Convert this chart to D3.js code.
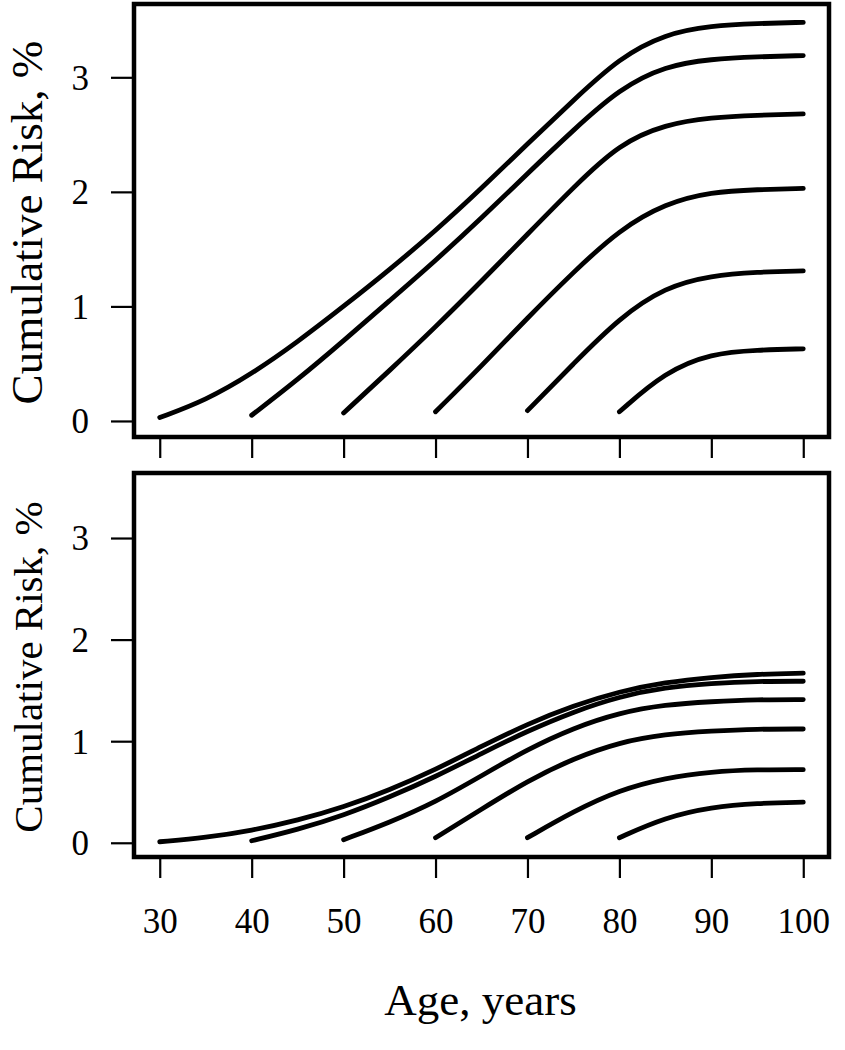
<!DOCTYPE html>
<html>
<head>
<meta charset="utf-8">
<script src="https://cdn.jsdelivr.net/npm/d3@7"></script>
<style>
  html, body { margin: 0; padding: 0; background: #fff; }
  svg { display: block; }
  text { font-family: "Liberation Serif", "Times New Roman", serif; fill: #000; }
</style>
</head>
<body>
<svg id="chart" width="845" height="1050"></svg>
<script>
// ---- Data ----
const ages = [30, 35, 40, 45, 50, 55, 60, 65, 70, 75, 80, 85, 90, 95, 100];
const startAges = [30, 40, 50, 60, 70, 80];
const xTicks = [30, 40, 50, 60, 70, 80, 90, 100];
const yTicks = [0, 1, 2, 3];
const yLabel = "Cumulative Risk, %";
const xLabel = "Age, years";

// Top panel: cumulative risk (%) by age, one series per start age
const top30 = [0.03, 0.18, 0.41, 0.69, 1.00, 1.32, 1.66, 2.03, 2.42, 2.80, 3.17, 3.38, 3.45, 3.47, 3.48];
const top40 = [0.05, 0.36, 0.70, 1.05, 1.40, 1.77, 2.16, 2.54, 2.90, 3.10, 3.16, 3.18, 3.19];
const top50 = [0.07, 0.44, 0.82, 1.22, 1.63, 2.04, 2.42, 2.59, 2.65, 2.67, 2.68];
const top60 = [0.08, 0.48, 0.90, 1.30, 1.67, 1.90, 2.00, 2.02, 2.03];
const top70 = [0.09, 0.50, 0.90, 1.17, 1.27, 1.30, 1.31];
const top80 = [0.08, 0.43, 0.59, 0.62, 0.63];

// Bottom panel
const bot30 = [0.01, 0.05, 0.12, 0.22, 0.35, 0.52, 0.72, 0.95, 1.17, 1.35, 1.49, 1.58, 1.63, 1.66, 1.67];
const bot40 = [0.02, 0.13, 0.27, 0.45, 0.65, 0.88, 1.10, 1.29, 1.44, 1.53, 1.57, 1.59, 1.59];
const bot50 = [0.03, 0.20, 0.40, 0.66, 0.92, 1.13, 1.28, 1.36, 1.39, 1.41, 1.41];
const bot60 = [0.05, 0.33, 0.61, 0.83, 0.99, 1.07, 1.10, 1.12, 1.12];
const bot70 = [0.05, 0.31, 0.52, 0.64, 0.70, 0.72, 0.72];
const bot80 = [0.05, 0.25, 0.35, 0.39, 0.40];

const topSeries = [top30, top40, top50, top60, top70, top80];
const botSeries = [bot30, bot40, bot50, bot60, bot70, bot80];

function toPoints(series, start) {
  const i0 = ages.indexOf(start);
  return series.map((v, i) => ({ age: ages[i0 + i], risk: v }));
}

// ---- Drawing ----
const svg = d3.select("#chart");
const xDomain = [27.2, 102.8];
const yDomain = [-0.14, 3.64];

const panels = [
  { series: botSeries, top: 473, bottom: 857, labels: true, ylabSize: 41 },
  { series: topSeries, top: 4, bottom: 437, labels: false, ylabSize: 45 }
];

const left = 134, right = 829;
const x = d3.scaleLinear().domain(xDomain).range([left, right]);

panels.forEach(p => {
  const y = d3.scaleLinear().domain(yDomain).range([p.bottom, p.top]);
  const g = svg.append("g");

  // curves
  const line = d3.line()
    .x(d => x(d.age))
    .y(d => y(d.risk))
    .curve(d3.curveBasis);

  g.selectAll("path.curve")
    .data(p.series.map((s, i) => toPoints(s, startAges[i])))
    .enter().append("path")
    .attr("class", "curve")
    .attr("d", line)
    .attr("fill", "none")
    .attr("stroke", "#000")
    .attr("stroke-width", 4.8)
    .attr("stroke-linecap", "round")
    .attr("stroke-linejoin", "round");

  // frame
  g.append("rect")
    .attr("x", left).attr("y", p.top)
    .attr("width", right - left).attr("height", p.bottom - p.top)
    .attr("fill", "none").attr("stroke", "#000").attr("stroke-width", 4.5);

  // y axis
  const yAxis = d3.axisLeft(y).tickValues(yTicks).tickSize(21).tickPadding(22)
    .tickFormat(d3.format("d"));
  const ya = g.append("g").attr("transform", `translate(${left - 2},0)`).call(yAxis);
  ya.select(".domain").remove();
  ya.selectAll(".tick line").attr("stroke", "#000").attr("stroke-width", 2.2);
  ya.selectAll(".tick text")
    .style("font-family", '"Liberation Serif", serif')
    .style("font-size", "35px")
    .attr("x", -43)
    .attr("dy", "0.34em");

  // x axis
  const xAxis = d3.axisBottom(x).tickValues(xTicks).tickSize(19).tickPadding(40)
    .tickFormat(p.labels ? d3.format("d") : "");
  const xa = g.append("g").attr("transform", `translate(0,${p.bottom + 2})`).call(xAxis);
  xa.select(".domain").remove();
  xa.selectAll(".tick line").attr("stroke", "#000").attr("stroke-width", 2.2);
  xa.selectAll(".tick text")
    .style("font-family", '"Liberation Serif", serif')
    .style("font-size", "35px")
    .attr("y", 0).attr("dy", 0)
    .attr("transform", "translate(0,74)");

  // y label
  g.append("text")
    .attr("transform", `translate(42,${(p.top + p.bottom) / 2 + 2}) rotate(-90)`)
    .attr("text-anchor", "middle")
    .style("font-size", p.ylabSize + "px")
    .text(yLabel);

  if (p.labels) {
    g.append("text")
      .attr("x", (left + right) / 2 - 1)
      .attr("y", 1015)
      .attr("text-anchor", "middle")
      .style("font-size", "45px")
      .text(xLabel);
  }
});
</script>
</body>
</html>
